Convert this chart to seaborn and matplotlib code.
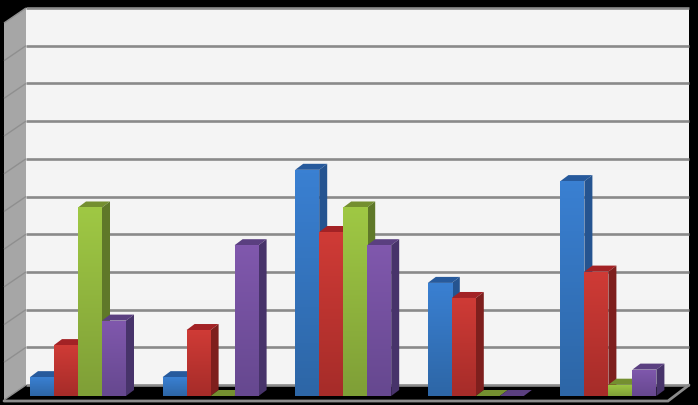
import matplotlib
matplotlib.use("Agg")
import matplotlib.pyplot as plt
from matplotlib.colors import LinearSegmentedColormap
from matplotlib.patches import Polygon
import numpy as np
import pandas as pd
import seaborn as sns

categories = ["A", "B", "C", "D", "E"]
series_names = ["S1", "S2", "S3", "S4"]
s1 = [0.5, 0.5, 6.0, 3.0, 5.7]
s2 = [1.35, 1.75, 4.35, 2.6, 3.3]
s3 = [5.0, 0.0, 5.0, 0.0, 0.3]
s4 = [2.0, 4.0, 4.0, 0.0, 0.7]

# front colour, gradient top, gradient bottom, top face, side face
colors = {
    "S1": ("#3a7bc8", "#3a80d2", "#2d66a6", "#275a9c", "#255490"),
    "S2": ("#c5352f", "#cf3b36", "#a62c29", "#a32225", "#7e1f1d"),
    "S3": ("#93b93c", "#9fc844", "#7f9f37", "#748f30", "#5f7829"),
    "S4": ("#7753a3", "#8058ad", "#66488f", "#5a3f80", "#47336a"),
}

W, H = 698, 405
BASE_Y = 396        # front baseline, px
UNIT_PX = 37.7      # px per gridline step
GROUP_PX = 132.6
FIRST_CENTER = 78
DEPTH_X, DEPTH_Y = 8, 6

sns.set_theme(style="white")
fig = plt.figure(figsize=(W / 100, H / 100), dpi=100, facecolor="black")

# room behind the bars, drawn in pixels
room = fig.add_axes([0, 0, 1, 1])
room.set_xlim(0, W)
room.set_ylim(H, 0)
room.axis("off")
wall_l, wall_r, wall_t, wall_b = 26, 689, 8, 385
room.add_patch(Polygon([(wall_l, wall_t), (wall_r, wall_t), (wall_r, wall_b), (wall_l, wall_b)],
                       fc="#f4f4f4", ec="none"))
room.add_patch(Polygon([(4, 23), (wall_l, wall_t), (wall_l, wall_b), (4, 400)], fc="#a6a6a6", ec="none"))
room.add_patch(Polygon([(4, 400), (wall_l, wall_b), (wall_r, wall_b), (668, 400)], fc="black", ec="none"))
for level in range(11):
    y = wall_b - level * UNIT_PX
    room.plot([wall_l, wall_r], [y, y], color="#8a8a8a", lw=1.9, solid_capstyle="butt")
    room.plot([4, wall_l], [y + 15, y], color="#8f8f8f", lw=1, solid_capstyle="butt")
room.plot([4, 668, wall_r], [401, 401, wall_b], color="#8c8c8c", lw=2, solid_joinstyle="miter")

# chart axes lined up on the front plane
x0 = FIRST_CENTER - GROUP_PX / 2
x1 = x0 + GROUP_PX * len(categories)
ax = fig.add_axes([x0 / W, 1 - BASE_Y / H, (x1 - x0) / W, 10 * UNIT_PX / H])
ax.patch.set_alpha(0)

df = pd.DataFrame({
    "category": categories * 4,
    "series": np.repeat(series_names, len(categories)),
    "value": s1 + s2 + s3 + s4,
})
sns.barplot(data=df, x="category", y="value", hue="series", order=categories, hue_order=series_names,
            palette={k: v[0] for k, v in colors.items()}, width=96 / GROUP_PX, gap=0,
            legend=False, ax=ax, linewidth=0)
ax.set_xlim(-0.5, len(categories) - 0.5)
ax.set_ylim(0, 10)
ax.axis("off")

dx = DEPTH_X / GROUP_PX
dy = DEPTH_Y / UNIT_PX
grad = np.linspace(0, 1, 64).reshape(-1, 1)

# add the 3d faces, left to right so later bars cover earlier sides
bars = []
for name, cont in zip(series_names, ax.containers):
    for bar in cont:
        bars.append((bar.get_x(), name, bar))
bars.sort(key=lambda b: b[0])

for i, (left, name, bar) in enumerate(bars):
    _, g_top, g_bot, top_c, side_c = colors[name]
    right = left + bar.get_width()
    h = bar.get_height()
    z = 3 + i * 0.01
    bar.set_zorder(z)
    ax.add_patch(Polygon([(left, h), (right, h), (right + dx, h + dy), (left + dx, h + dy)],
                         fc=top_c, ec="none", zorder=z, clip_on=False))
    ax.add_patch(Polygon([(right, 0), (right + dx, dy), (right + dx, h + dy), (right, h)],
                         fc=side_c, ec="none", zorder=z, clip_on=False))
    if h > 0:
        cmap = LinearSegmentedColormap.from_list(name, [g_top, g_bot])
        im = ax.imshow(grad, extent=(left, right, 0, h), origin="upper", aspect="auto",
                       cmap=cmap, zorder=z + 0.001)
        im.set_clip_path(bar)

ax.set_xlim(-0.5, len(categories) - 0.5)
ax.set_ylim(0, 10)

fig.savefig("out.png", dpi=100, facecolor="black")
